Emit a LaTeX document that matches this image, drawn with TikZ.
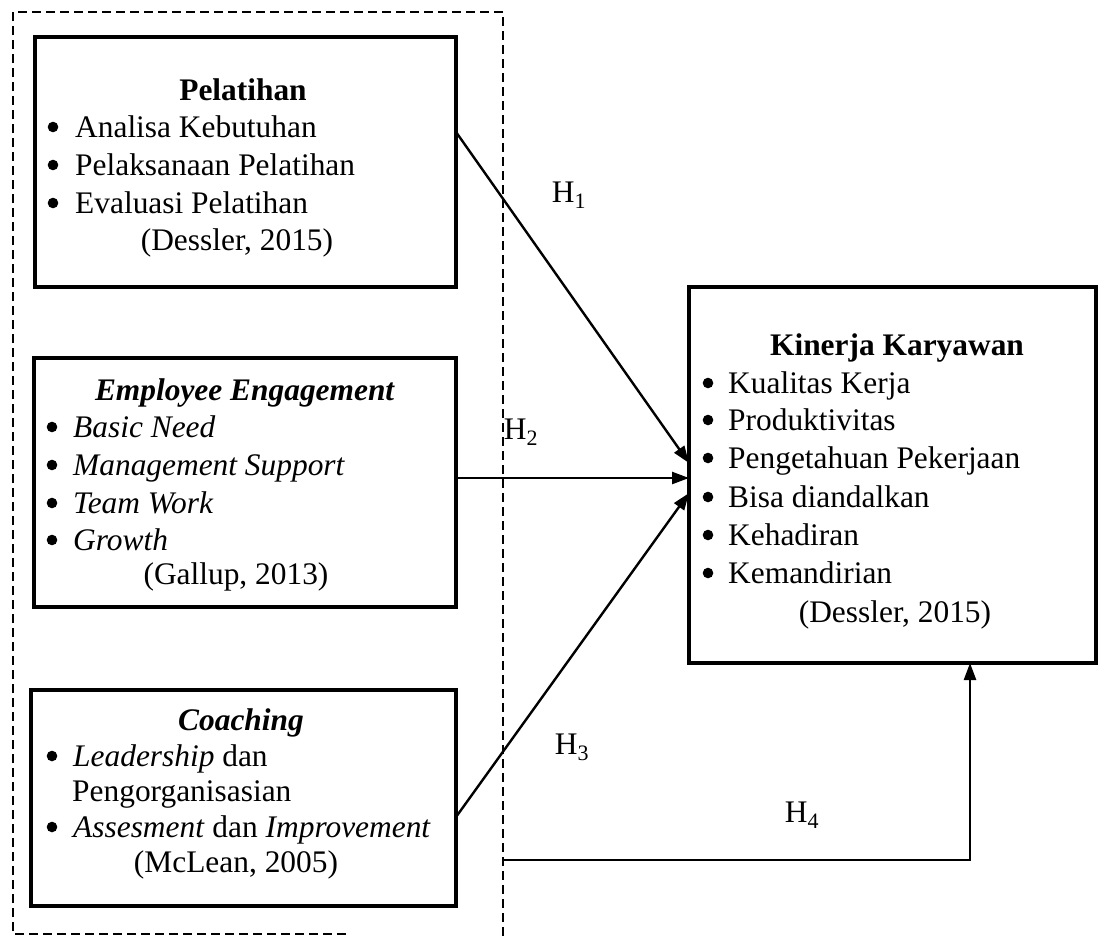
\documentclass[tikz,border=0pt]{standalone}
\usepackage{fontspec}
\setmainfont{Liberation Serif}
\usetikzlibrary{arrows.meta}
\newcommand\fz{\fontsize{31.4}{38}\selectfont}
\begin{document}
\begin{tikzpicture}[x=1pt,y=-1pt,
  box/.style={draw, line width=3.6pt, rectangle, inner sep=0pt, outer sep=0pt},
  ttl/.style={anchor=base, inner sep=0pt, font=\fz},
  ln/.style={anchor=base west, inner sep=0pt, font=\fz},
  arr/.style={line width=2.4pt, -{Triangle[length=17pt,width=12pt]}},
  hl/.style={inner sep=0pt, font=\fz},
  dbox/.style={line width=2.6pt, dash pattern=on 9pt off 5pt}]
\useasboundingbox (0,0) rectangle (1099,937);

% dashed grouping frame
\draw[dbox] (346,934) -- (13,934) -- (13,12) -- (503,12) -- (503,937);

% boxes
\node[box, minimum width=421pt, minimum height=250pt] (pel) at (245.5,162) {};
\node[box, minimum width=422pt, minimum height=249pt] (eng) at (245,482.5) {};
\node[box, minimum width=425pt, minimum height=216pt] (coa) at (243.5,798) {};
\node[box, minimum width=407pt, minimum height=376pt] (kin) at (892.5,475) {};

% Pelatihan
\node[ttl] (p0) at (243,100) {\textbf{Pelatihan}};
\node[ln] (p1) at (75,137) {Analisa Kebutuhan};
\node[ln] (p2) at (75,175) {Pelaksanaan Pelatihan};
\node[ln] (p3) at (75,213) {Evaluasi Pelatihan};
\node[ttl] (p4) at (237,250) {(Dessler, 2015)};

% Employee Engagement
\node[ttl] (e0) at (245,400) {\textbf{\textit{Employee Engagement}}};
\node[ln] (e1) at (73,437) {\textit{Basic Need}};
\node[ln] (e2) at (73,475) {\textit{Management Support}};
\node[ln] (e3) at (73,513) {\textit{Team Work}};
\node[ln] (e4) at (73,550) {\textit{Growth}};
\node[ttl] (e5) at (236,584) {(Gallup, 2013)};

% Coaching
\node[ttl] (c0) at (241,730) {\textbf{\textit{Coaching}}};
\node[ln] (c1) at (73,766) {\textit{Leadership} dan};
\node[ln] (c2) at (72,801) {Pengorganisasian};
\node[ln] (c3) at (73,837) {\textit{Assesment} dan \textit{Improvement}};
\node[ttl] (c4) at (236,872) {(McLean, 2005)};

% Kinerja Karyawan
\node[ttl] (k0) at (897,355) {\textbf{Kinerja Karyawan}};
\node[ln] (k1) at (728,393) {Kualitas Kerja};
\node[ln] (k2) at (728,430) {Produktivitas};
\node[ln] (k3) at (728,468) {Pengetahuan Pekerjaan};
\node[ln] (k4) at (728,507) {Bisa diandalkan};
\node[ln] (k5) at (728,545) {Kehadiran};
\node[ln] (k6) at (728,583) {Kemandirian};
\node[ttl] (k7) at (895,622) {(Dessler, 2015)};

% bullets
\foreach \n in {p1,p2,p3}
  \fill ([xshift=-22pt,yshift=10pt]\n.base west) circle (5.3pt);
\foreach \n in {e1,e2,e3,e4,c1,c3}
  \fill ([xshift=-21pt,yshift=10pt]\n.base west) circle (5.3pt);
\foreach \n in {k1,k2,k3,k4,k5,k6}
  \fill ([xshift=-20pt,yshift=10pt]\n.base west) circle (5.3pt);

% connectors
\draw[arr] ([yshift=30pt]pel.east) -- ([yshift=12pt]kin.west);
\draw[arr] ([yshift=4.5pt]eng.east) -- ([yshift=4.5pt]eng.east -| kin.west);
\draw[arr] ([yshift=-19pt]coa.east) -- ([yshift=-18pt]kin.west);
\coordinate (h4s) at (503,860);
\draw[arr] (h4s) -| ([xshift=77.5pt]kin.south);

% hypothesis labels
\node[hl] (h1) at (569,195) {H\textsubscript{1}};
\node[hl] (h2) at (521,432) {H\textsubscript{2}};
\node[hl] (h3) at (572,747) {H\textsubscript{3}};
\node[hl] (h4) at (802,815) {H\textsubscript{4}};
\end{tikzpicture}
\end{document}
